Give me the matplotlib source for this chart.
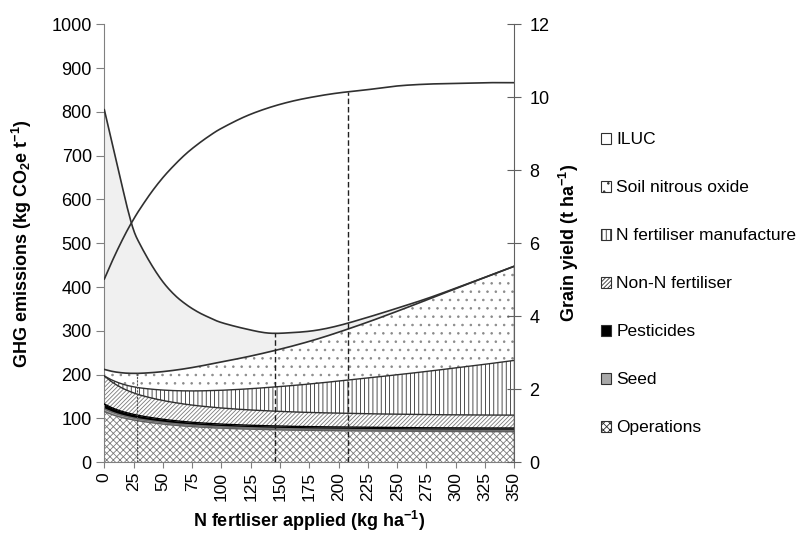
import numpy as np
import matplotlib.pyplot as plt
from matplotlib.patches import Patch

plt.rcParams['font.family'] = ['Liberation Sans', 'DejaVu Sans']
plt.rcParams['mathtext.fontset'] = 'custom'
plt.rcParams['mathtext.rm'] = 'Liberation Sans'
plt.rcParams['mathtext.bf'] = 'Liberation Sans:bold'
plt.rcParams['hatch.linewidth'] = 0.6

# N fertiliser rate (kg ha-1)
n_rate = [0, 5, 10, 15, 20, 25, 30, 40, 50, 60, 70, 80, 90, 100,
          120, 140, 160, 180, 200, 225, 250, 275, 300, 325, 350]

# grain yield (t ha-1)
grain_yield = [5.02, 5.39, 5.74, 6.07, 6.38, 6.66, 6.92, 7.39, 7.80, 8.15, 8.46, 8.72, 8.95, 9.15,
               9.47, 9.71, 9.89, 10.02, 10.12, 10.21, 10.31, 10.36, 10.38, 10.40, 10.40]

# emission components (kg CO2e t-1), bottom to top
operations = [116.0, 110.5, 106.0, 102.2, 99.2, 96.6, 94.3, 90.5, 87.3, 84.6, 82.4, 80.6, 79.1, 77.9,
              76.0, 74.6, 73.5, 72.7, 72.1, 71.5, 71.0, 70.6, 70.3, 70.1, 70.0]
seed = [6.0, 5.6, 5.2, 5.0, 4.7, 4.5, 4.3, 4.1, 3.9, 3.7, 3.6, 3.5, 3.4, 3.3,
        3.2, 3.1, 3.0, 3.0, 3.0, 2.9, 2.9, 2.9, 2.9, 2.9, 2.9]
pesticides = [11.0, 10.2, 9.6, 9.1, 8.7, 8.3, 8.0, 7.5, 7.1, 6.8, 6.5, 6.3, 6.2, 6.0,
              5.8, 5.7, 5.6, 5.5, 5.5, 5.4, 5.4, 5.3, 5.3, 5.3, 5.3]
non_n_fert = [64.0, 60.0, 56.5, 53.5, 51.0, 49.0, 47.3, 44.8, 42.8, 41.2, 39.8, 38.6, 37.6, 36.7,
              35.2, 34.0, 33.0, 32.2, 31.6, 31.0, 30.5, 30.1, 29.8, 29.6, 29.5]
n_fert_manuf = [0.0, 3.4, 6.5, 9.2, 11.6, 13.9, 16.1, 20.1, 23.8, 27.3, 30.7, 34.0, 37.3, 40.5,
                47.0, 53.5, 60.0, 66.6, 73.3, 81.8, 90.0, 98.5, 107.2, 115.9, 124.9]
soil_n2o = [15.0, 18.8, 22.2, 25.3, 28.1, 30.7, 33.1, 37.6, 42.1, 46.6, 51.1, 55.7, 60.2, 64.8,
            72.5, 80.8, 89.9, 100.0, 111.5, 127.5, 145.0, 163.0, 181.0, 198.5, 215.0]
iluc = [593.0, 539.5, 485.0, 428.7, 373.7, 327.0, 296.9, 247.4, 205.0, 171.8, 145.9, 124.3, 106.2, 89.8,
        65.3, 43.3, 31.0, 21.0, 15.0, 11.0, 7.0, 3.0, 1.0, 0.0, 0.0]

# N rates marked by the vertical lines
n_min_excl_iluc = 28
n_min_total = 146
n_econ_opt = 208

layers = [
    ('Operations', operations, dict(facecolor='white', hatch='xxxxx', edgecolor='#7a7a7a'), '#606060', 1.0),
    ('Seed', seed, dict(facecolor='#a8a8a8', hatch=None, edgecolor='#a8a8a8'), '#707070', 1.0),
    ('Pesticides', pesticides, dict(facecolor='black', hatch=None, edgecolor='black'), 'black', 1.0),
    ('Non-N fertiliser', non_n_fert, dict(facecolor='white', hatch='////////', edgecolor='#7a7a7a'), '#303030', 1.0),
    ('N fertiliser manufacture', n_fert_manuf, dict(facecolor='white', hatch='||||', edgecolor='#303030'), '#303030', 1.0),
    ('Soil nitrous oxide', soil_n2o, dict(facecolor='white', hatch='..', edgecolor='#8a8a8a'), '#303030', 1.2),
    ('ILUC', iluc, dict(facecolor='#f0f0f0', hatch=None, edgecolor='#f0f0f0'), '#303030', 1.2),
]


def smooth(xs, ys, n=12):
    # Catmull-Rom curve through the data points, like a smoothed line in a spreadsheet chart
    p = np.column_stack([xs, ys]).astype(float)
    p = np.vstack([2 * p[0] - p[1], p, 2 * p[-1] - p[-2]])
    t = np.linspace(0, 1, n, endpoint=False)[:, None]
    out = []
    for i in range(1, len(p) - 2):
        p0, p1, p2, p3 = p[i - 1], p[i], p[i + 1], p[i + 2]
        seg = 0.5 * (2 * p1 + (-p0 + p2) * t + (2 * p0 - 5 * p1 + 4 * p2 - p3) * t ** 2
                     + (-p0 + 3 * p1 - 3 * p2 + p3) * t ** 3)
        out.append(seg)
    out.append(p[-2][None, :])
    arr = np.vstack(out)
    return arr[:, 0], arr[:, 1]


x = np.array(n_rate, dtype=float)

fig = plt.figure(figsize=(7.97, 5.34), dpi=100)
ax = fig.add_axes([0.1309, 0.1343, 0.6453 - 0.1309, 0.9545 - 0.1343])

cum = np.zeros_like(x)
tops = {}
for name, vals, style, line_col, lw in layers:
    cum = cum + np.array(vals)
    tops[name] = cum

prev = None
smooth_tops = {}
for name, vals, style, line_col, lw in layers:
    xs, ys = smooth(x, tops[name])
    if prev is not None:
        ys = np.maximum(ys, prev)
    smooth_tops[name] = ys
    base = np.zeros_like(ys) if prev is None else prev
    ax.fill_between(xs, base, ys, linewidth=0, zorder=1, **style)
    prev = ys

for name, vals, style, line_col, lw in layers:
    ax.plot(xs, smooth_tops[name], color=line_col, lw=lw, zorder=3)
ax.plot([x[-1], x[-1]], [0, tops['ILUC'][-1]], color='#303030', lw=1.0, zorder=3)

# vertical markers
excl_iluc = tops['Soil nitrous oxide']
total = tops['ILUC']
yield_scaled = np.array(grain_yield) * 1000 / 12
ax.plot([n_min_excl_iluc] * 2, [0, np.interp(n_min_excl_iluc, x, excl_iluc)],
        color='#505050', lw=0.8, ls=(0, (2, 1)), zorder=4)
ax.plot([n_min_total] * 2, [0, np.interp(n_min_total, x, total)],
        color='#202020', lw=1.0, ls=(0, (4, 2)), zorder=4)
ax.plot([n_econ_opt] * 2, [0, np.interp(n_econ_opt, x, yield_scaled)],
        color='#202020', lw=1.0, ls=(0, (4, 2)), zorder=4)

ax.set_xlim(0, 350)
ax.set_ylim(0, 1000)
ax.set_xticks(np.arange(0, 351, 25))
ax.set_yticks(np.arange(0, 1001, 100))
ax.tick_params(axis='x', labelrotation=90, labelsize=12.5, direction='out', length=4,
               color='#808080', pad=3)
ax.tick_params(axis='y', labelsize=13, direction='out', length=6, color='#808080', pad=3)
for side in ['top', 'right']:
    ax.spines[side].set_visible(False)
for side in ['left', 'bottom']:
    ax.spines[side].set_color('#808080')

ax.set_xlabel('N fertliser applied (kg ha$^{\\mathbf{-1}}$)', fontsize=13, fontweight='bold')
ax.set_ylabel('GHG emissions (kg CO$_{\\mathbf{2}}$e t$^{\\mathbf{-1}}$)', fontsize=13, fontweight='bold')
ax.yaxis.set_label_coords(-0.171, 0.5)
ax.xaxis.set_label_coords(0.5, -0.106)

ax2 = ax.twinx()
xs_y, ys_y = smooth(x, grain_yield)
ax2.plot(xs_y, ys_y, color='#303030', lw=1.2, zorder=5)
ax2.set_ylim(0, 12)
ax2.set_yticks(np.arange(0, 13, 2))
ax2.tick_params(axis='y', labelsize=13, direction='inout', length=10, color='#606060', pad=6)
for side in ['top', 'left', 'bottom']:
    ax2.spines[side].set_visible(False)
ax2.spines['right'].set_color('#606060')
ax2.set_ylabel('Grain yield (t ha$^{\\mathbf{-1}}$)', fontsize=13, fontweight='bold')
ax2.yaxis.set_label_coords(1.105, 0.5)

handles = []
for name, vals, style, line_col, lw in layers[::-1]:
    handles.append(Patch(facecolor=style['facecolor'] if name != 'ILUC' else 'white',
                         hatch=style['hatch'], edgecolor='#303030', linewidth=0.8, label=name))
fig.legend(handles=handles, loc='upper left', bbox_to_anchor=(0.745, 0.765), frameon=False,
           fontsize=12.5, handlelength=0.6, handleheight=0.6, handletextpad=0.3,
           labelspacing=1.9, borderaxespad=0)

fig.savefig('out.png', dpi=100)
